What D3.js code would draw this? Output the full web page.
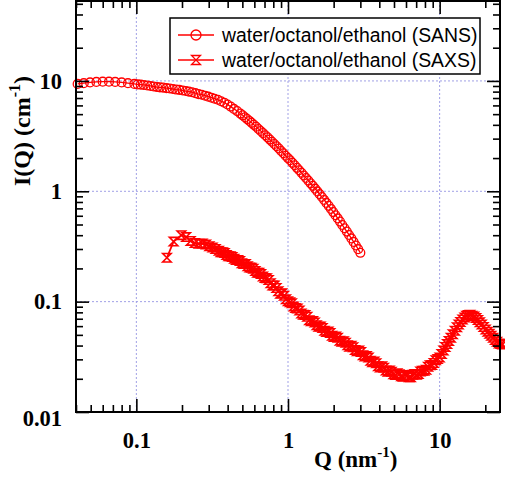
<!DOCTYPE html>
<html><head><meta charset="utf-8">
<script src="https://cdn.jsdelivr.net/npm/d3@7"></script>
<style>body{margin:0;background:#fff}</style>
</head><body><svg id="c" width="505" height="477"></svg>
<script>
// ---------- data ----------
const sansQ = [0.041,0.045,0.0495,0.0545,0.06,0.066,0.0725,0.08,0.088,0.097,
  0.102,0.107,0.112,0.118,0.124,0.130,0.137,0.143,0.150,0.158,0.166,0.174,0.183,0.192,0.202,0.212,0.222,0.233,0.245,0.257,0.270,0.284,0.298,0.313,0.328,0.345,0.362,0.380,0.399,0.419,0.440,0.462,0.485,
  0.502,0.520,0.538,0.557,0.576,0.596,0.617,0.639,0.661,0.684,0.708,0.733,0.759,0.785,0.813,0.841,0.871,0.901,0.933,0.965,0.999,1.034,1.070,1.108,1.146,1.186,1.228,1.271,1.315,1.361,1.409,1.458,1.509,1.562,1.617,1.673,1.732,1.792,1.855,1.920,1.987,2.057,2.129,2.203,2.280,2.360,2.443,2.528,2.617,2.708,2.803,2.901,3.00];
const sansI = [9.4,9.55,9.7,9.8,9.85,9.85,9.8,9.7,9.55,9.4,
  9.3,9.25,9.2,9.1,9.0,8.9,8.8,8.75,8.7,8.6,8.55,8.45,8.35,8.3,8.2,8.1,8.0,7.9,7.75,7.6,7.5,7.35,7.2,7.05,6.9,6.75,6.55,6.35,6.12,5.85,5.58,5.33,5.06,
  4.88,4.69,4.51,4.34,4.17,4.00,3.84,3.67,3.52,3.37,3.22,3.08,2.94,2.81,2.68,2.56,2.44,2.32,2.21,2.10,2.00,1.91,1.81,1.72,1.63,1.55,1.47,1.39,1.32,1.25,1.18,1.12,1.057,0.998,0.942,0.887,0.835,0.785,0.738,0.692,0.648,0.607,0.568,0.531,0.495,0.462,0.431,0.402,0.374,0.348,0.323,0.299,0.277];

const saxsQ = [0.159,0.176,0.198,0.213,0.228,0.243,0.258,0.273,0.288,0.303,0.318,0.333,
  0.35,0.360,0.371,0.382,0.393,0.405,0.417,0.429,0.442,0.455,0.468,0.482,0.496,0.511,0.526,0.542,0.558,0.574,0.591,0.609,0.627,0.645,0.664,0.684,0.704,0.725,0.746,0.768,0.791,0.815,0.839,0.864,0.889,0.915,0.942,0.970,0.999,
  1.03,1.06,1.09,1.12,1.155,1.19,1.225,1.26,1.30,1.34,1.38,1.42,1.46,1.50,1.545,1.59,1.64,1.69,1.74,1.79,1.845,1.90,1.955,2.01,2.07,2.13,2.195,2.26,2.33,2.40,2.47,2.54,2.615,2.69,2.77,2.85,2.94,
  3.03,3.12,3.21,3.30,3.40,3.50,3.60,3.71,3.82,3.93,4.05,4.17,4.29,4.42,4.55,4.68,4.82,4.96,5.11,5.26,5.42,5.58,5.74,5.91,6.09,6.27,6.45,6.64,6.84,7.04,7.25,7.46,7.68,7.91,8.15,8.39,8.63,8.89,9.15,9.42,9.70,
  10.0,10.3,10.6,10.9,11.2,11.5,11.85,12.2,12.6,13.0,13.35,13.7,14.15,14.6,15.0,15.4,15.9,16.4,16.9,17.4,17.9,18.4,18.95,19.5,20.1,20.7,21.3,21.9,22.55,23.2,23.9,24.6,25.3,26.0];
const saxsI = [0.25,0.35,0.40,0.385,0.355,0.34,0.335,0.336,0.33,0.318,0.31,0.30,
  0.289,0.280,0.281,0.276,0.264,0.258,0.258,0.254,0.245,0.239,0.238,0.233,0.223,0.219,0.219,0.209,0.204,0.203,0.199,0.190,0.183,0.183,0.178,0.169,0.164,0.163,0.157,0.147,0.140,0.140,0.133,0.124,0.118,0.119,0.113,0.105,0.101,
  0.0985,0.0965,0.0905,0.0875,0.0865,0.0830,0.0780,0.0760,0.0758,0.0730,0.0680,0.0665,0.0668,0.0648,0.0612,0.0592,0.0595,0.0578,0.0545,0.0530,0.0535,0.0520,0.0490,0.0478,0.0483,0.0470,0.0443,0.0432,0.0438,0.0425,0.0402,0.0391,0.0398,0.0386,0.0365,0.0356,0.0360,
  0.0349,0.0326,0.0318,0.0322,0.0311,0.0291,0.0283,0.0287,0.0277,0.0260,0.0253,0.0260,0.0252,0.0238,0.0232,0.0238,0.0232,0.0220,0.0216,0.0224,0.0220,0.0211,0.0209,0.0216,0.0213,0.0206,0.0207,0.0218,0.0221,0.0217,0.0221,0.0233,0.0236,0.0236,0.0242,0.0257,0.0265,0.0266,0.0278,0.0294,0.0302,
  0.0312,0.0336,0.0360,0.0389,0.0413,0.0441,0.0472,0.0506,0.0545,0.0586,0.0620,0.0655,0.0690,0.0720,0.0745,0.0758,0.0760,0.0745,0.0733,0.0712,0.0682,0.0649,0.0620,0.0589,0.0560,0.0534,0.0512,0.0490,0.0470,0.0450,0.0433,0.0418,0.0413,0.0410];

const xTickValues = [0.1, 1, 10];
const xTickLabels = ["0.1", "1", "10"];
const yTickValues = [0.01, 0.1, 1, 10];
const yTickLabels = ["0.01", "0.1", "1", "10"];
const gridX = [0.1, 1, 10];
const gridY = [0.1, 1, 10];
const seriesNames = ["water/octanol/ethanol (SANS)", "water/octanol/ethanol (SAXS)"];

// ---------- layout ----------
const L = 76, R = 500, T = 1, B = 412;
const red = "#ff0000";
const svg = d3.select("#c");
const x = d3.scaleLog().domain([0.04, 25]).range([L, R]);
const y = d3.scaleLog().domain([0.01, 53]).range([B, T]);

const xMinor = x.ticks().filter(v => !xTickValues.includes(v) && v >= 0.04 && v <= 25);
const yMinor = y.ticks().filter(v => !yTickValues.includes(v) && v >= 0.01 && v <= 53);

// grid
const grid = svg.append("g").attr("stroke", "#a0a0e6").attr("stroke-width", 1).attr("stroke-dasharray", "2,2");
gridX.forEach(v => grid.append("line").attr("x1", x(v)).attr("x2", x(v)).attr("y1", T).attr("y2", B));
gridY.forEach(v => grid.append("line").attr("x1", L).attr("x2", R).attr("y1", y(v)).attr("y2", y(v)));

// series
const sans = sansQ.map((q, i) => [q, sansI[i]]);
const saxs = saxsQ.map((q, i) => [q, saxsI[i]]);
const line = d3.line().x(d => x(d[0])).y(d => y(d[1]));
const hg = s => `M${-s},${-s}L${s},${-s}L${-s},${s}L${s},${s}Z`;

svg.append("path").datum(saxs).attr("d", line).attr("fill", "none").attr("stroke", red).attr("stroke-width", 1.8);
svg.append("g").selectAll("path").data(saxs).join("path")
  .attr("transform", d => `translate(${x(d[0])},${y(d[1])})`)
  .attr("d", hg(4.2)).attr("fill", "none").attr("stroke", red).attr("stroke-width", 1.6);

svg.append("path").datum(sans).attr("d", line).attr("fill", "none").attr("stroke", red).attr("stroke-width", 1.3);
svg.append("g").selectAll("circle").data(sans).join("circle")
  .attr("cx", d => x(d[0])).attr("cy", d => y(d[1])).attr("r", 4.4)
  .attr("fill", "none").attr("stroke", red).attr("stroke-width", 1.3);

// axes
const tickFont = g => g.selectAll("text").attr("font-family", "'Liberation Serif','Times New Roman',serif")
  .attr("font-weight", "bold").attr("font-size", 22.5).attr("fill", "#000");
const clean = g => { g.select(".domain").remove(); g.selectAll("line").attr("stroke", "#000").attr("stroke-width", 1.6); };

svg.append("g").attr("transform", `translate(0,${B})`)
  .call(d3.axisBottom(x).tickValues(xTickValues).tickFormat((d, i) => xTickLabels[i]).tickSizeInner(-13).tickSizeOuter(0).tickPadding(20))
  .call(clean).call(tickFont);
svg.append("g").attr("transform", `translate(0,${B})`)
  .call(d3.axisBottom(x).tickValues(xMinor).tickFormat("").tickSizeInner(-7).tickSizeOuter(0)).call(clean);
svg.append("g").attr("transform", `translate(0,${T})`)
  .call(d3.axisTop(x).tickValues(xTickValues).tickFormat("").tickSizeInner(-13).tickSizeOuter(0)).call(clean);
svg.append("g").attr("transform", `translate(0,${T})`)
  .call(d3.axisTop(x).tickValues(xMinor).tickFormat("").tickSizeInner(-7).tickSizeOuter(0)).call(clean);

const yAx = svg.append("g").attr("transform", `translate(${L},0)`)
  .call(d3.axisLeft(y).tickValues(yTickValues).tickFormat((d, i) => yTickLabels[i]).tickSizeInner(-13).tickSizeOuter(0).tickPadding(14))
  .call(clean).call(tickFont);
yAx.selectAll(".tick").filter(d => d === 0.01).select("text").attr("dy", "0.6em");
svg.append("g").attr("transform", `translate(${L},0)`)
  .call(d3.axisLeft(y).tickValues(yMinor).tickFormat("").tickSizeInner(-7).tickSizeOuter(0)).call(clean);
svg.append("g").attr("transform", `translate(${R},0)`)
  .call(d3.axisRight(y).tickValues(yTickValues).tickFormat("").tickSizeInner(-13).tickSizeOuter(0)).call(clean);
svg.append("g").attr("transform", `translate(${R},0)`)
  .call(d3.axisRight(y).tickValues(yMinor).tickFormat("").tickSizeInner(-7).tickSizeOuter(0)).call(clean);

// frame
svg.append("rect").attr("x", L).attr("y", T).attr("width", R - L).attr("height", B - T)
  .attr("fill", "none").attr("stroke", "#000").attr("stroke-width", 2);

// axis titles
const tf = "'Liberation Serif','Times New Roman',serif";
const xt = svg.append("text").attr("x", 314).attr("y", 467).attr("font-family", tf).attr("font-weight", "bold").attr("font-size", 23);
xt.append("tspan").text("Q (nm");
xt.append("tspan").attr("dy", -10).attr("font-size", 15).text("-1");
xt.append("tspan").attr("dy", 10).text(")");

const yt = svg.append("text").attr("transform", "translate(30,131) rotate(-90)").attr("text-anchor", "middle")
  .attr("font-family", tf).attr("font-weight", "bold").attr("font-size", 24);
yt.append("tspan").text("I(Q) (cm");
yt.append("tspan").attr("dy", -10).attr("font-size", 16).text("-1");
yt.append("tspan").attr("dy", 10).text(")");

// legend
const lg = svg.append("g");
lg.append("rect").attr("x", 170).attr("y", 18).attr("width", 310).attr("height", 56)
  .attr("fill", "#fff").attr("stroke", "#000").attr("stroke-width", 1.5);
const rows = [35, 60];
seriesNames.forEach((name, i) => {
  const yy = rows[i];
  lg.append("line").attr("x1", 178).attr("x2", 214).attr("y1", yy).attr("y2", yy).attr("stroke", red).attr("stroke-width", 1.3);
  if (i === 0) lg.append("circle").attr("cx", 196).attr("cy", yy).attr("r", 5).attr("fill", "none").attr("stroke", red).attr("stroke-width", 1.3);
  else lg.append("path").attr("transform", `translate(196,${yy})`).attr("d", hg(4.5)).attr("fill", "none").attr("stroke", red).attr("stroke-width", 1.3);
  lg.append("text").attr("x", 222).attr("y", yy).attr("dy", "0.35em").attr("font-family", "'Liberation Sans',Arial,sans-serif")
    .attr("font-size", 19.4).attr("fill", "#000").text(name);
});
</script></body></html>
